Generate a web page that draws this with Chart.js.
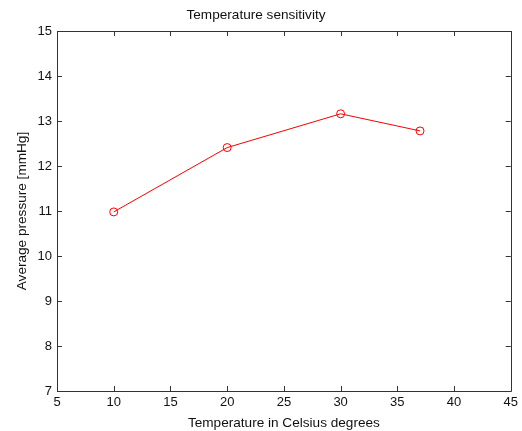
<!DOCTYPE html>
<html>
<head>
<meta charset="utf-8">
<script src="https://cdn.jsdelivr.net/npm/chart.js@4/dist/chart.umd.min.js"></script>
<style>
html,body{margin:0;padding:0;background:#fff;}
canvas{display:block;}
</style>
</head>
<body>
<canvas id="c" width="522" height="431"></canvas>
<script>
const temperatures = [10, 20, 30, 37];
const pressures = [10.98, 12.41, 13.16, 12.78];
const xTickValues = [5, 10, 15, 20, 25, 30, 35, 40, 45];
const yTickValues = [7, 8, 9, 10, 11, 12, 13, 14, 15];
const titleText = 'Temperature sensitivity';
const xTitle = 'Temperature in Celsius degrees';
const yTitle = 'Average pressure [mmHg]';

const FONT = '"Liberation Sans", Arial, sans-serif';
const lineCol = '#333333';
const textCol = '#111111';

const frameTicks = {
  id: 'frameTicks',
  afterDraw(chart) {
    const ctx = chart.ctx;
    const a = chart.chartArea;
    const xs = chart.scales.x, ys = chart.scales.y;
    const tl = 5;
    ctx.save();
    ctx.strokeStyle = lineCol;
    ctx.lineWidth = 1;
    ctx.beginPath();
    ctx.rect(Math.round(a.left) + 0.5, Math.round(a.top) + 0.5, Math.round(a.right - a.left), Math.round(a.bottom - a.top));
    ctx.stroke();
    ctx.beginPath();
    xTickValues.forEach(v => {
      const px = Math.round(xs.getPixelForValue(v)) + 0.5;
      ctx.moveTo(px, a.bottom); ctx.lineTo(px, a.bottom - tl);
      ctx.moveTo(px, a.top); ctx.lineTo(px, a.top + tl);
    });
    yTickValues.forEach(v => {
      const py = Math.round(ys.getPixelForValue(v)) + 0.5;
      ctx.moveTo(a.left, py); ctx.lineTo(a.left + tl, py);
      ctx.moveTo(a.right, py); ctx.lineTo(a.right - tl, py);
    });
    ctx.stroke();
    ctx.restore();
  }
};

new Chart(document.getElementById('c'), {
  type: 'scatter',
  data: {
    datasets: [{
      data: temperatures.map((t, i) => ({x: t, y: pressures[i]})),
      showLine: true,
      borderColor: '#ff0000',
      backgroundColor: 'rgba(0,0,0,0)',
      borderWidth: 1,
      pointRadius: 4,
      pointBorderWidth: 1,
      pointBorderColor: '#ff0000',
      pointBackgroundColor: 'rgba(0,0,0,0)',
      pointStyle: 'circle'
    }]
  },
  options: {
    responsive: false,
    animation: false,
    layout: {padding: {left: 0, right: 10, top: 0, bottom: 0}},
    plugins: {
      legend: {display: false},
      tooltip: {enabled: false},
      title: {
        display: true,
        text: titleText,
        color: textCol,
        font: {family: FONT, size: 13.6, weight: 'normal'},
        padding: {top: 6.8, bottom: 7.9}
      }
    },
    scales: {
      x: {
        type: 'linear',
        min: 5, max: 45,
        afterBuildTicks: s => { s.ticks = xTickValues.map(v => ({value: v})); },
        afterFit: s => { s.height = 40; },
        grid: {display: false, drawTicks: false},
        border: {display: false},
        ticks: {color: textCol, font: {family: FONT, size: 13}, padding: 4, autoSkip: false, maxRotation: 0},
        title: {display: true, text: xTitle, color: textCol, font: {family: FONT, size: 13.6}, padding: {top: 0, bottom: 0}}
      },
      y: {
        type: 'linear',
        min: 7, max: 15,
        afterBuildTicks: s => { s.ticks = yTickValues.map(v => ({value: v})); },
        afterFit: s => { s.width = 57; },
        grid: {display: false, drawTicks: false},
        border: {display: false},
        ticks: {color: textCol, font: {family: FONT, size: 13}, padding: 5, autoSkip: false},
        title: {display: true, text: yTitle, color: textCol, font: {family: FONT, size: 13.6}, padding: {top: 14, bottom: 0}}
      }
    }
  },
  plugins: [frameTicks]
});
</script>
</body>
</html>
